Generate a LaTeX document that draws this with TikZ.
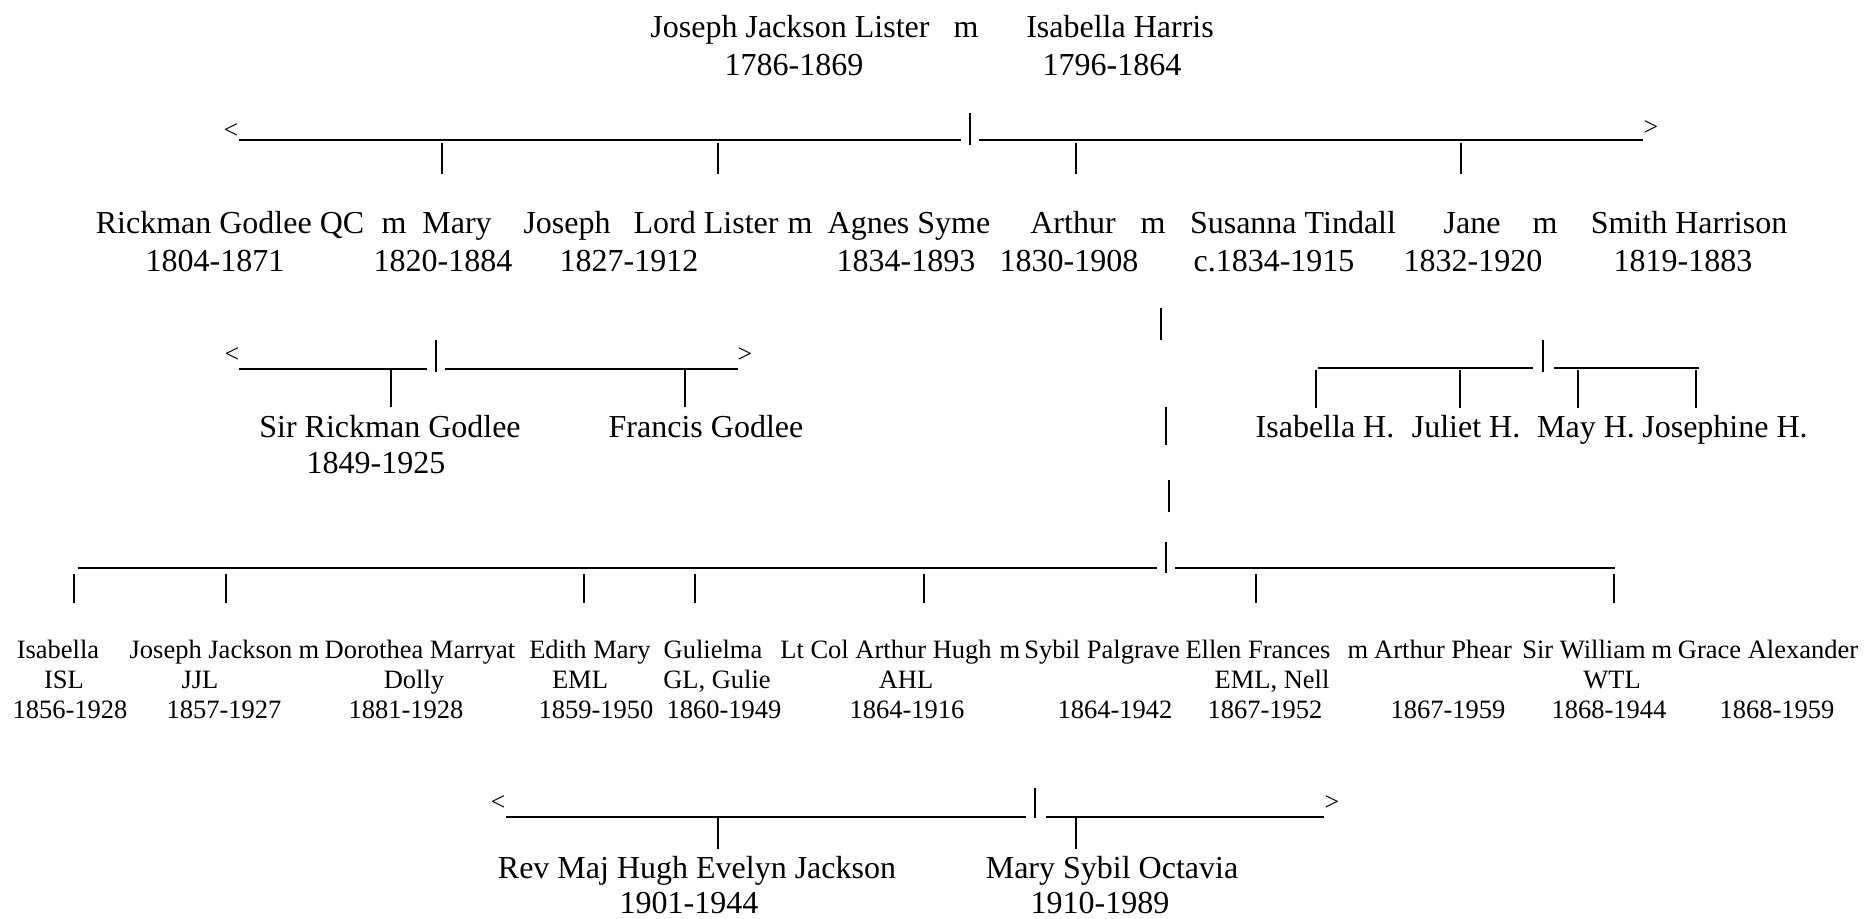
\documentclass[tikz,border=0pt]{standalone}
\usepackage{fontspec}
\setmainfont{Liberation Serif}
\begin{document}
\begin{tikzpicture}[x=0.5pt,y=-0.5pt,
    person/.style={anchor=base,inner sep=0pt,font=\fontsize{16}{19}\selectfont},
    grandkid/.style={anchor=base,inner sep=0pt,font=\fontsize{13.25}{15}\selectfont},
    railend/.style={inner sep=0pt,font=\fontsize{13}{13}\selectfont},
    rail/.style={line width=0.75pt}, stem/.style={line width=0.9pt}]
  \useasboundingbox (0,0) rectangle (1872,918);

  % Joseph Jackson Lister m Isabella Harris
  \node[person] (jjl) at (790,37) {Joseph Jackson Lister};
  \node[person] (jjld) at (794,75) {1786-1869};
  \node[person] (m0) at (966,37) {m};
  \node[person] (ih) at (1120,37) {Isabella Harris};
  \node[person] (ihd) at (1112,75) {1796-1864};

  \coordinate (r1w) at (239,140);
  \coordinate (r1) at (970,113);
  \coordinate (r1e) at (1643,140);
  \draw[rail] (r1w) -- ++(722,0) ++(18,0) -- (r1e);
  \draw[stem] (r1) -- ++(0,32);
  \node[railend] (r1l) at (231,131) {<};
  \node[railend] (r1r) at (1651,128) {>};
  \foreach \x in {442,718,1076,1461} \draw[stem] (\x,143) -- ++(0,31);

  % second generation
  \node[person] (rg) at (230,233) {Rickman Godlee QC};
  \node[person] (rgd) at (215,271) {1804-1871};
  \node[person] (m1) at (394,233) {m};
  \node[person] (ma) at (457,233) {Mary};
  \node[person] (mad) at (443,271) {1820-1884};
  \node[person] (jl) at (651,233) {Joseph\hspace{0.72em}Lord Lister};
  \node[person] (jld) at (629,271) {1827-1912};
  \node[person] (m2) at (800,233) {m};
  \node[person] (as) at (909,233) {Agnes Syme};
  \node[person] (asd) at (906,271) {1834-1893};
  \node[person] (ar) at (1073,233) {Arthur};
  \node[person] (ard) at (1069,271) {1830-1908};
  \node[person] (m3) at (1153,233) {m};
  \node[person] (st) at (1293,233) {Susanna Tindall};
  \node[person] (std) at (1274,271) {c.1834-1915};
  \node[person] (ja) at (1472,233) {Jane};
  \node[person] (jad) at (1473,271) {1832-1920};
  \node[person] (m4) at (1545,233) {m};
  \node[person] (sh) at (1689,233) {Smith Harrison};
  \node[person] (shd) at (1683,271) {1819-1883};

  % Godlee children
  \coordinate (g) at (436,340);
  \draw[stem] (g) -- ++(0,32);
  \draw[rail] (239,369) -- (427,369) (445,369) -- (738,369);
  \node[railend] (gl) at (232,355) {<};
  \node[railend] (gr) at (745,355) {>};
  \foreach \x in {391,685} \draw[stem] (\x,370) -- ++(0,37);
  \node[person] (srg) at (390,437) {Sir Rickman Godlee};
  \node[person] (srgd) at (376,473) {1849-1925};
  \node[person] (fg) at (706,437) {Francis Godlee};

  % Harrison children
  \coordinate (h) at (1543,340);
  \draw[stem] (h) -- ++(0,32);
  \draw[rail] (1318,368) -- (1533,368) (1554,368) -- (1699,368);
  \foreach \x in {1316,1460,1578,1696} \draw[stem] (\x,370) -- ++(0,38);
  \node[person] (ish) at (1325,437) {Isabella H.};
  \node[person] (juh) at (1466,437) {Juliet H.};
  \node[person] (myh) at (1586,437) {May H.};
  \node[person] (joh) at (1725,437) {Josephine H.};

  % Arthur's line down to his children
  \draw[stem] (1161,308) -- ++(0,32) (1166,407) -- ++(0,38)
    (1169,480) -- ++(0,32) (1166,542) -- ++(0,31);
  \draw[rail] (78,568) -- (1157,568) (1175,568) -- (1615,568);
  \foreach \x in {74,226,584,695,924,1256,1614} \draw[stem] (\x,574) -- ++(0,29);

  % third generation
  \node[grandkid] (isl) at (58,658) {Isabella};
  \node[grandkid] (isla) at (64,688) {ISL};
  \node[grandkid] (isld) at (70,718) {1856-1928};
  \node[grandkid] (jj) at (211,658) {Joseph Jackson};
  \node[grandkid] (jja) at (200,688) {JJL};
  \node[grandkid] (jjd) at (224,718) {1857-1927};
  \node[grandkid] (m5) at (309,658) {m};
  \node[grandkid] (dm) at (420,658) {Dorothea Marryat};
  \node[grandkid] (dma) at (414,688) {Dolly};
  \node[grandkid] (dmd) at (406,718) {1881-1928};
  \node[grandkid] (em) at (590,658) {Edith Mary};
  \node[grandkid] (ema) at (580,688) {EML};
  \node[grandkid] (emd) at (596,718) {1859-1950};
  \node[grandkid] (gu) at (713,658) {Gulielma};
  \node[grandkid] (gua) at (717,688) {GL, Gulie};
  \node[grandkid] (gud) at (724,718) {1860-1949};
  \node[grandkid] (ah) at (886,658) {Lt Col Arthur Hugh};
  \node[grandkid] (aha) at (906,688) {AHL};
  \node[grandkid] (ahd) at (907,718) {1864-1916};
  \node[grandkid] (m6) at (1010,658) {m};
  \node[grandkid] (sp) at (1102,658) {Sybil Palgrave};
  \node[grandkid] (spd) at (1115,718) {1864-1942};
  \node[grandkid] (ef) at (1258,658) {Ellen Frances};
  \node[grandkid] (efa) at (1272,688) {EML, Nell};
  \node[grandkid] (efd) at (1265,718) {1867-1952};
  \node[grandkid] (m7) at (1358,658) {m};
  \node[grandkid] (ap) at (1443,658) {Arthur Phear};
  \node[grandkid] (apd) at (1448,718) {1867-1959};
  \node[grandkid] (sw) at (1584,658) {Sir William};
  \node[grandkid] (swa) at (1612,688) {WTL};
  \node[grandkid] (swd) at (1609,718) {1868-1944};
  \node[grandkid] (m8) at (1662,658) {m};
  \node[grandkid] (ga) at (1768,658) {Grace Alexander};
  \node[grandkid] (gad) at (1777,718) {1868-1959};

  % Arthur Hugh's children
  \coordinate (a) at (1035,788);
  \draw[stem] (a) -- ++(0,30);
  \draw[rail] (506,817) -- (1026,817) (1046,817) -- (1324,817);
  \node[railend] (al) at (498,803) {<};
  \node[railend] (arr) at (1332,803) {>};
  \foreach \x in {718,1076} \draw[stem] (\x,818) -- ++(0,31);
  \node[person] (hej) at (697,878) {Rev Maj Hugh Evelyn Jackson};
  \node[person] (hejd) at (689,913) {1901-1944};
  \node[person] (mso) at (1112,878) {Mary Sybil Octavia};
  \node[person] (msod) at (1100,913) {1910-1989};
\end{tikzpicture}
\end{document}
